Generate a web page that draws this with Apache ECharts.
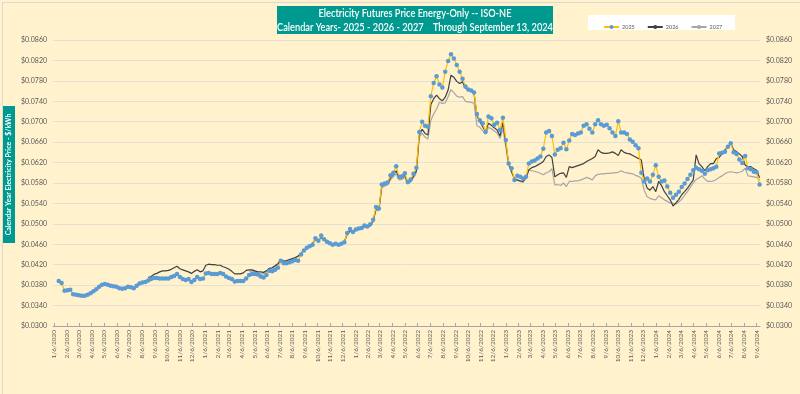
<!DOCTYPE html>
<html>
<head>
<meta charset="utf-8">
<script src="https://cdn.jsdelivr.net/npm/echarts@6/dist/echarts.min.js"></script>
<style>
html,body{margin:0;padding:0;background:#FFF2CC;}
#chart{width:800px;height:394px;}
</style>
</head>
<body>
<div id="chart"></div>
<script>
// ---- data (weekly settlements, first week 1/17/2020) ----
const firstWeek = [2020, 0, 17];
const start2026 = 31;   // week index where 2026 begins
const start2027 = 66;   // week index where 2027 begins

const cal2025 = [
0.0388,0.0384,0.0369,0.0370,0.0371,0.0362,0.0361,0.0360,0.0359,0.0359,
0.0361,0.0364,0.0368,0.0372,0.0377,0.0381,0.0382,0.0381,0.0379,0.0378,
0.0377,0.0374,0.0373,0.0374,0.0377,0.0376,0.0374,0.0379,0.0383,0.0385,
0.0386,0.0389,0.0392,0.0394,0.0394,0.0393,0.0393,0.0393,0.0393,0.0396,
0.0398,0.0402,0.0396,0.0392,0.0390,0.0392,0.0386,0.0390,0.0396,0.0392,
0.0393,0.0403,0.0404,0.0402,0.0402,0.0402,0.0404,0.0402,0.0397,0.0394,
0.0392,0.0387,0.0388,0.0388,0.0388,0.0393,0.0400,0.0402,0.0402,0.0401,
0.0397,0.0395,0.0400,0.0408,0.0407,0.0410,0.0414,0.0428,0.0423,0.0423,
0.0425,0.0427,0.0429,0.0428,0.0440,0.0448,0.0453,0.0456,0.0459,0.0472,
0.0467,0.0477,0.0470,0.0465,0.0462,0.0459,0.0461,0.0459,0.0461,0.0464,
0.0482,0.0490,0.0484,0.0489,0.0491,0.0492,0.0497,0.0495,0.0499,0.0508,
0.0533,0.0530,0.0577,0.0579,0.0581,0.0595,0.0600,0.0613,0.0592,0.0593,
0.0599,0.0582,0.0587,0.0598,0.0610,0.0680,0.0700,0.0692,0.0690,0.0750,
0.0776,0.0789,0.0773,0.0767,0.0798,0.0819,0.0832,0.0824,0.0811,0.0798,
0.0784,0.0769,0.0763,0.0761,0.0757,0.0715,0.0703,0.0697,0.0680,0.0710,
0.0707,0.0694,0.0698,0.0684,0.0708,0.0664,0.0618,0.0609,0.0586,0.0594,
0.0592,0.0589,0.0592,0.0618,0.0622,0.0624,0.0628,0.0632,0.0647,0.0679,
0.0682,0.0672,0.0636,0.0645,0.0648,0.0659,0.0646,0.0663,0.0676,0.0674,
0.0677,0.0679,0.0692,0.0695,0.0686,0.0679,0.0695,0.0703,0.0695,0.0692,
0.0694,0.0687,0.0679,0.0672,0.0701,0.0679,0.0679,0.0676,0.0665,0.0661,
0.0654,0.0648,0.0600,0.0583,0.0589,0.0583,0.0596,0.0615,0.0592,0.0583,
0.0585,0.0573,0.0561,0.0551,0.0557,0.0563,0.0572,0.0579,0.0588,0.0596,
0.0605,0.0610,0.0607,0.0604,0.0598,0.0605,0.0607,0.0609,0.0612,0.0638,
0.0639,0.0641,0.0651,0.0658,0.0640,0.0637,0.0626,0.0619,0.0633,0.0609,
0.0607,0.0602,0.0601,0.0577
];

const cal2026 = [
0.0395,0.0397,0.0401,0.0403,0.0406,0.0408,0.0408,0.0409,0.0411,
0.0414,0.0417,0.0412,0.0410,0.0408,0.0406,0.0403,0.0407,0.0410,0.0406,
0.0408,0.0419,0.0421,0.0420,0.0420,0.0419,0.0419,0.0416,0.0414,0.0411,
0.0407,0.0402,0.0402,0.0402,0.0404,0.0409,0.0410,0.0410,0.0408,0.0406,
0.0406,0.0405,0.0408,0.0413,0.0414,0.0418,0.0422,0.0430,0.0427,0.0428,
0.0430,0.0432,0.0434,0.0437,0.0442,0.0448,0.0452,0.0456,0.0462,0.0470,
0.0468,0.0474,0.0470,0.0466,0.0463,0.0460,0.0461,0.0460,0.0461,0.0465,
0.0480,0.0487,0.0484,0.0488,0.0490,0.0491,0.0495,0.0494,0.0497,0.0506,
0.0530,0.0528,0.0574,0.0577,0.0579,0.0590,0.0596,0.0604,0.0590,0.0590,
0.0595,0.0580,0.0584,0.0594,0.0604,0.0674,0.0685,0.0677,0.0674,0.0733,
0.0745,0.0752,0.0745,0.0741,0.0748,0.0762,0.0791,0.0787,0.0779,0.0775,
0.0778,0.0766,0.0762,0.0760,0.0755,0.0712,0.0700,0.0690,0.0680,0.0697,
0.0693,0.0688,0.0684,0.0672,0.0698,0.0658,0.0618,0.0602,0.0589,0.0586,
0.0584,0.0583,0.0590,0.0606,0.0610,0.0612,0.0615,0.0618,0.0622,0.0632,
0.0635,0.0630,0.0592,0.0596,0.0599,0.0600,0.0591,0.0612,0.0610,0.0612,
0.0614,0.0616,0.0618,0.0622,0.0625,0.0628,0.0632,0.0645,0.0640,0.0638,
0.0638,0.0639,0.0641,0.0638,0.0634,0.0645,0.0640,0.0638,0.0637,0.0634,
0.0631,0.0628,0.0625,0.0588,0.0570,0.0566,0.0573,0.0563,0.0583,0.0575,
0.0563,0.0555,0.0547,0.0535,0.0541,0.0548,0.0557,0.0563,0.0570,0.0578,
0.0586,0.0635,0.0618,0.0612,0.0604,0.0612,0.0618,0.0618,0.0628,0.0630,
0.0638,0.0645,0.0651,0.0658,0.0645,0.0641,0.0637,0.0632,0.0615,0.0612,
0.0612,0.0608,0.0605,0.0590
];

const cal2027 = [
0.0407,0.0408,0.0406,0.0404,
0.0402,0.0402,0.0406,0.0411,0.0413,0.0416,0.0421,0.0428,0.0426,0.0427,
0.0429,0.0431,0.0433,0.0436,0.0441,0.0447,0.0451,0.0455,0.0461,0.0468,
0.0467,0.0472,0.0469,0.0465,0.0462,0.0459,0.0460,0.0459,0.0460,0.0464,
0.0478,0.0485,0.0483,0.0487,0.0489,0.0490,0.0494,0.0493,0.0496,0.0504,
0.0527,0.0526,0.0571,0.0574,0.0576,0.0586,0.0592,0.0598,0.0586,0.0587,
0.0591,0.0578,0.0582,0.0590,0.0600,0.0670,0.0677,0.0670,0.0666,0.0703,
0.0715,0.0725,0.0738,0.0736,0.0737,0.0749,0.0763,0.0757,0.0750,0.0748,
0.0749,0.0740,0.0739,0.0738,0.0736,0.0692,0.0689,0.0682,0.0676,0.0689,
0.0686,0.0682,0.0678,0.0667,0.0687,0.0651,0.0615,0.0602,0.0587,0.0585,
0.0583,0.0581,0.0590,0.0605,0.0604,0.0603,0.0601,0.0599,0.0596,0.0600,
0.0602,0.0608,0.0576,0.0577,0.0575,0.0580,0.0573,0.0583,0.0583,0.0584,
0.0584,0.0586,0.0588,0.0591,0.0589,0.0586,0.0594,0.0597,0.0598,0.0598,
0.0599,0.0599,0.0600,0.0600,0.0601,0.0604,0.0601,0.0600,0.0599,0.0598,
0.0595,0.0593,0.0589,0.0566,0.0553,0.0550,0.0548,0.0547,0.0555,0.0551,
0.0547,0.0544,0.0541,0.0540,0.0539,0.0543,0.0548,0.0556,0.0563,0.0572,
0.0580,0.0587,0.0590,0.0594,0.0588,0.0583,0.0583,0.0584,0.0587,0.0591,
0.0594,0.0598,0.0601,0.0602,0.0601,0.0600,0.0601,0.0603,0.0609,0.0594,
0.0593,0.0592,0.0591,0.0586
];

const seriesNames = ['2025', '2026', '2027'];
const yMin = 0.0300, yMax = 0.0860, yStep = 0.0040;
const xTickMonths = 57; // 1/6/2020 ... 9/6/2024
const titleLines = ['Electricity Futures Price Energy-Only -- ISO-NE',
                    'Calendar Years- 2025 - 2026 - 2027    Through September 13, 2024'];
const yAxisTitle = 'Calendar Year Electricity Price - $/kWh';

// ---- build ----
function weekDate(i) {
  return new Date(firstWeek[0], firstWeek[1], firstWeek[2] + 7 * i).getTime();
}
function toPairs(arr, offset) {
  return arr.map((v, i) => [weekDate(i + offset), v]);
}
const tickDates = [];
for (let m = 0; m < xTickMonths; m++) tickDates.push(new Date(2020, m, 6).getTime());
const yTicks = [];
for (let k = 0; k <= Math.round((yMax - yMin) / yStep); k++) yTicks.push(+(yMin + k * yStep).toFixed(4));

const fmtDate = v => { const d = new Date(v); return (d.getMonth() + 1) + '/' + d.getDate() + '/' + d.getFullYear(); };
const fmtY = v => '$' + v.toFixed(4);

const FONT = 'Lato, "Liberation Sans", sans-serif';
const TEAL = '#00998F';

const yAxisBase = {
  type: 'value', min: yMin, max: yMax, interval: yStep,
  axisLine: { show: false }, axisTick: { show: false },
  axisLabel: { customValues: yTicks, formatter: fmtY, color: '#595959', fontSize: 7, fontFamily: FONT, margin: 6 },
  splitLine: { lineStyle: { color: '#E6E0D2', width: 1 } }
};

const chart = echarts.init(document.getElementById('chart'), null, { renderer: 'canvas' });
chart.setOption({
  backgroundColor: '#FFF2CC',
  animation: false,
  grid: { left: 53, right: 40, top: 40, bottom: 68 },
  xAxis: {
    type: 'value',
    min: new Date(2020, 0, 3).getTime(),
    max: new Date(2024, 8, 14).getTime(),
    axisLine: { lineStyle: { color: '#A6A6A6' } },
    axisTick: { customValues: tickDates, inside: true, length: 3, lineStyle: { color: '#A6A6A6' } },
    axisLabel: { customValues: tickDates, formatter: fmtDate, rotate: 90, color: '#595959',
                 fontSize: 6.5, fontFamily: FONT, margin: 4, hideOverlap: false, showMinLabel: true, showMaxLabel: true },
    splitLine: { show: false }
  },
  yAxis: [
    Object.assign({}, yAxisBase, { position: 'left' }),
    Object.assign({}, yAxisBase, { position: 'right', splitLine: { show: false } })
  ],
  legend: {
    data: seriesNames, left: 598, top: 19, itemWidth: 15, itemHeight: 5, itemGap: 12,
    textStyle: { fontSize: 5.5, color: '#595959', fontFamily: FONT, padding: [0, 0, 0, -2] }
  },
  graphic: [
    { type: 'rect', left: 0, top: 0, shape: { width: 799, height: 393 }, style: { fill: 'none', stroke: '#D9D9D9', lineWidth: 1 }, silent: true },
    { type: 'rect', shape: { x: 588, y: 15, width: 147, height: 15 }, style: { fill: '#FFFFFF' }, z: -1 },
    { type: 'rect', shape: { x: 277, y: 6, width: 276, height: 28 }, style: { fill: TEAL } },
    { type: 'text', x: 415, y: 13.5, scaleX: 0.84, style: { text: titleLines[0], fill: '#FFFFFF', font: '600 11px ' + FONT, align: 'center', verticalAlign: 'middle' } },
    { type: 'text', x: 415, y: 27, scaleX: 0.84, style: { text: titleLines[1], fill: '#FFFFFF', font: '600 11px ' + FONT, align: 'center', verticalAlign: 'middle' } },
    { type: 'rect', shape: { x: 3, y: 106, width: 12, height: 137 }, style: { fill: TEAL } },
    { type: 'text', x: 9, y: 174.5, rotation: Math.PI / 2,
      style: { text: yAxisTitle, fill: '#FFFFFF', font: 'bold 7px ' + FONT, align: 'center', verticalAlign: 'middle' } }
  ],
  series: [
    { name: '2027', type: 'line', data: toPairs(cal2027, start2027), showSymbol: false, symbol: 'none',
      lineStyle: { color: '#A6A6A6', width: 1.2 }, itemStyle: { color: '#A6A6A6' }, z: 2 },
    { name: '2026', type: 'line', data: toPairs(cal2026, start2026), showSymbol: false, symbol: 'none',
      lineStyle: { color: '#404040', width: 1.2 }, itemStyle: { color: '#404040' }, z: 3 },
    { name: '2025', type: 'line', data: toPairs(cal2025, 0), symbol: 'circle', symbolSize: 4.5, showSymbol: true,
      lineStyle: { color: '#FFC000', width: 1.2 }, itemStyle: { color: '#5B9BD5', borderWidth: 0 }, z: 4 }
  ]
});
</script>
</body>
</html>
